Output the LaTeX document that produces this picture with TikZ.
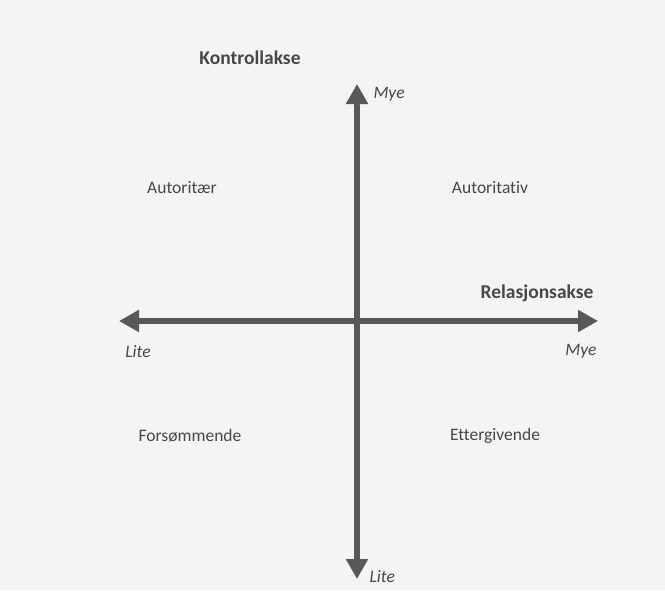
\documentclass[tikz,border=0pt]{standalone}
\usepackage{fontspec}
\setmainfont[Ligatures={NoCommon}]{Carlito}
\usetikzlibrary{arrows.meta}
\definecolor{axisgray}{HTML}{585858}
\definecolor{textgray}{HTML}{474747}
\definecolor{paper}{HTML}{F4F4F3}
\tikzset{
  akse/.style={draw=axisgray, line width=5.5pt, {Triangle[length=20pt,width=21pt]}-{Triangle[length=20pt,width=21pt]}},
  aksenavn/.style={font=\bfseries\fontsize{19.5}{22}\selectfont, text=textgray},
  ende/.style={font=\itshape\fontsize{17.5}{20}\selectfont, text=textgray},
  stil/.style={font=\fontsize{17.5}{20}\selectfont, text=textgray}
}
\begin{document}
\begin{tikzpicture}[x=1pt,y=-1pt]
  \fill[paper] (0,0) rectangle (665,590);
  \useasboundingbox (0,0) rectangle (665,590);
  % axes
  \coordinate (topp) at (357,84);
  \coordinate (bunn) at (357,579);
  \coordinate (venstre) at (119,321);
  \coordinate (hoyre) at (598,321);
  \draw[akse] (bunn) -- (topp);
  \draw[akse] (venstre) -- (hoyre);
  % axis names
  \node[aksenavn] (kontroll) at (250,58) {Kontrollakse};
  \node[aksenavn] (relasjon) at (537,293) {Relasjonsakse};
  % ends
  \node[ende, anchor=west] (mye1) at (370,94) {Mye};
  \node[ende, anchor=west] (lite1) at (366,577) {Lite};
  \node[ende] (lite2) at (138,352) {Lite};
  \node[ende] (mye2) at (581,351) {Mye};
  % styles
  \node[stil] (autoritaer) at (182,188) {Autoritær};
  \node[stil] (autoritativ) at (490,188) {Autoritativ};
  \node[stil] (forsommende) at (190,436) {Forsømmende};
  \node[stil] (ettergivende) at (495,436) {Ettergivende};
\end{tikzpicture}
\end{document}
